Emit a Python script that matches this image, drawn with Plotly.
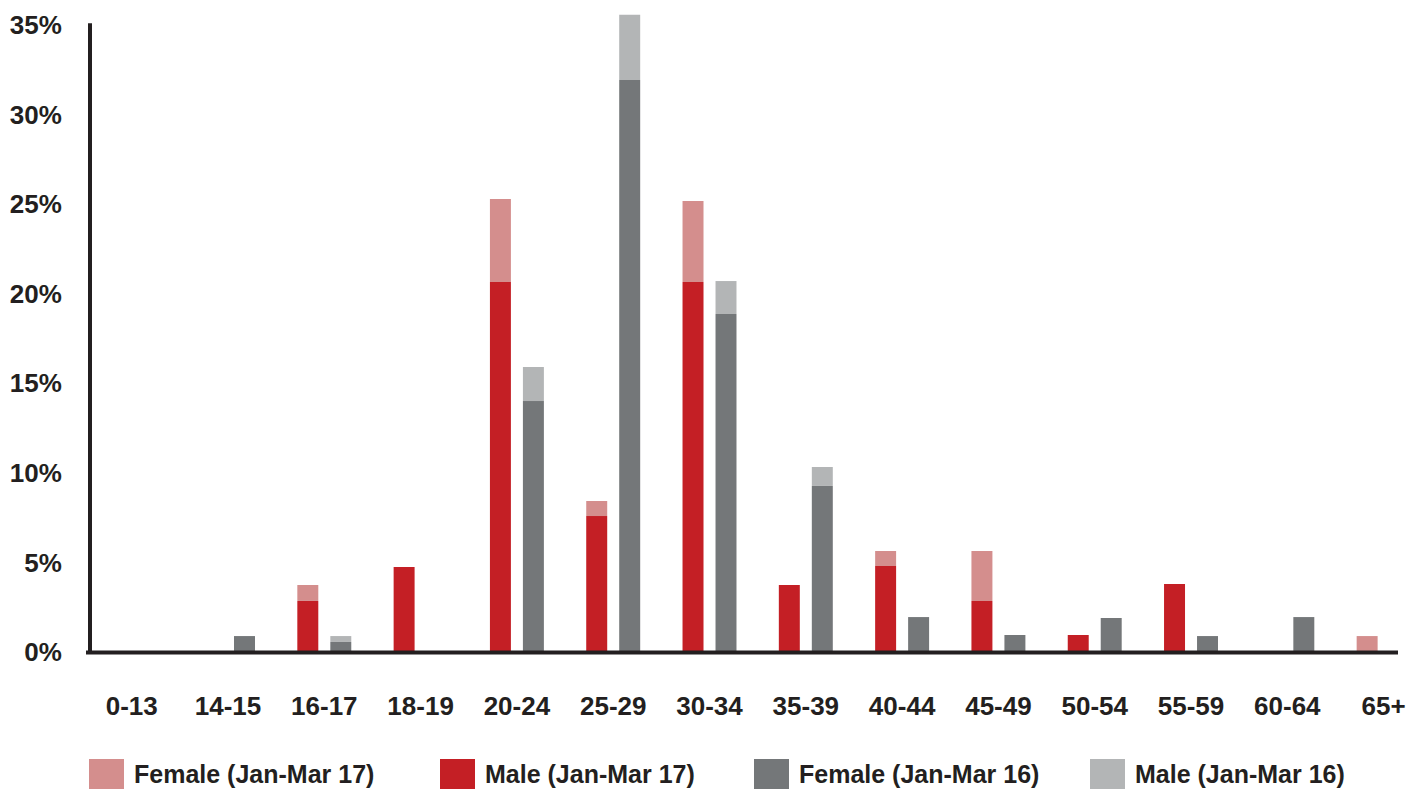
import plotly.graph_objects as go

categories = ["0-13", "14-15", "16-17", "18-19", "20-24", "25-29", "30-34",
              "35-39", "40-44", "45-49", "50-54", "55-59", "60-64", "65+"]

male_17 = [0, 0, 2.85, 4.75, 20.66, 7.59, 20.66, 3.74, 4.80, 2.85, 0.95, 3.80, 0, 0]
female_17 = [0, 0, 0.89, 0, 4.63, 0.84, 4.52, 0, 0.84, 2.79, 0, 0, 0, 0.89]
female_16 = [0, 0.89, 0.56, 0, 14.01, 31.94, 18.87, 9.27, 1.95, 0.95, 1.90, 0.89, 1.95, 0]
male_16 = [0, 0, 0.33, 0, 1.90, 3.63, 1.84, 1.06, 0, 0, 0, 0, 0, 0]

y_ticks = [0, 5, 10, 15, 20, 25, 30, 35]

legend_labels = ["Female (Jan-Mar 17)", "Male (Jan-Mar 17)",
                 "Female (Jan-Mar 16)", "Male (Jan-Mar 16)"]

C_PINK = "#D48E8D"
C_RED = "#C41F25"
C_DARK = "#747779"
C_LIGHT = "#B3B5B6"
C_AXIS = "#231F20"
FONT = "Liberation Sans"
FS = 26

fig = go.Figure()
fig.add_trace(go.Bar(x=categories, y=male_17, offsetgroup="17",
                     marker=dict(color=C_RED, line=dict(width=0)), name=legend_labels[1]))
fig.add_trace(go.Bar(x=categories, y=female_17, base=male_17, offsetgroup="17",
                     marker=dict(color=C_PINK, line=dict(width=0)), name=legend_labels[0]))
fig.add_trace(go.Bar(x=categories, y=female_16, offsetgroup="16",
                     marker=dict(color=C_DARK, line=dict(width=0)), name=legend_labels[2]))
fig.add_trace(go.Bar(x=categories, y=male_16, base=female_16, offsetgroup="16",
                     marker=dict(color=C_LIGHT, line=dict(width=0)), name=legend_labels[3]))

W, H = 1420, 789
L, R, T, B = 90, 20, 0, 137
PW = W - L - R
PH = H - T - B

def px_x(p):
    return (p - L) / PW

def px_y(p):
    return (T + PH - p) / PH

fig.update_layout(
    width=W, height=H,
    margin=dict(l=L, r=R, t=T, b=B),
    barmode="group", bargap=0.315, bargroupgap=0.364,
    plot_bgcolor="white", paper_bgcolor="white",
    showlegend=False,
    font=dict(family=FONT, color=C_AXIS),
    xaxis=dict(
        range=[-0.433, 13.17], showgrid=False, zeroline=False, showline=False,
        ticks="outside", ticklen=31, tickcolor="rgba(0,0,0,0)",
        tickfont=dict(family=FONT, size=FS, weight="bold", color=C_AXIS),
    ),
    yaxis=dict(
        range=[0, 36.4], showgrid=False, zeroline=False, showline=False,
        tickvals=y_ticks, ticktext=[f"{v}%" for v in y_ticks],
        ticks="outside", ticklen=22, tickcolor="rgba(0,0,0,0)",
        tickfont=dict(family=FONT, size=FS, weight="bold", color=C_AXIS),
    ),
)

# axis lines
fig.add_shape(type="line", xref="paper", yref="y", x0=0, x1=0, y0=-0.05, y1=35.1,
              line=dict(color=C_AXIS, width=4))
fig.add_shape(type="line", xref="paper", yref="paper", x0=px_x(86), x1=px_x(1398),
              y0=px_y(652.5), y1=px_y(652.5), line=dict(color=C_AXIS, width=4))

# manual legend
legend_colors = [C_PINK, C_RED, C_DARK, C_LIGHT]
legend_x = [89, 440, 754, 1090]
for lab, col, x0 in zip(legend_labels, legend_colors, legend_x):
    fig.add_shape(type="rect", xref="paper", yref="paper",
                  x0=px_x(x0), x1=px_x(x0 + 35), y0=px_y(794), y1=px_y(759),
                  fillcolor=col, line=dict(width=0))
    fig.add_annotation(xref="paper", yref="paper", x=px_x(x0 + 43), y=px_y(773.5),
                       text=lab, showarrow=False, xanchor="left", yanchor="middle",
                       font=dict(family=FONT, size=25, weight="bold", color=C_AXIS))

fig.write_html("out.html", config={"displayModeBar": False},
               post_script="document.body.style.margin='0';document.body.style.overflow='hidden';")
